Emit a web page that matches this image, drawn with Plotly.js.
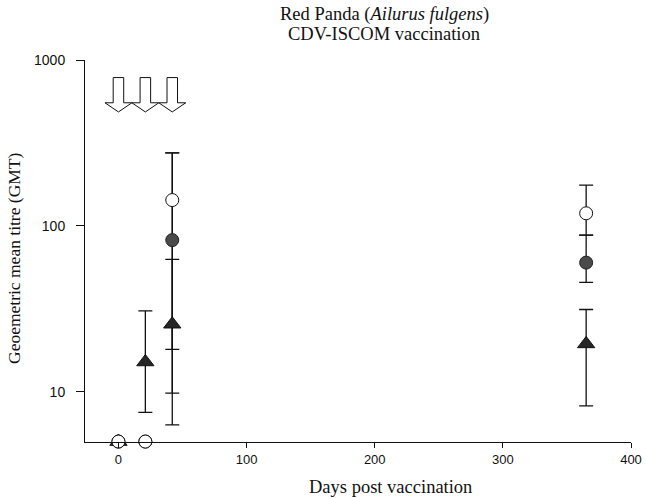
<!DOCTYPE html>
<html>
<head>
<meta charset="utf-8">
<script src="https://cdn.plot.ly/plotly-3.0.1.min.js"></script>
<style>
  html, body { margin: 0; padding: 0; background: #ffffff; }
  #chart { width: 646px; height: 499px; }
</style>
</head>
<body>
<div id="chart"></div>
<script>
// Sampling days (post first vaccination)
const days = [0, 21, 42, 365];
// Days on which a vaccination dose was given
const vaccinationDays = [0, 21, 42];

// Geometric mean titres per group with upper / lower limits
const openGMT    = [5, 5, 143, 119];
const openUpper  = [null, null, 275, 176];
const openLower  = [null, null, 9.8, 88];

const filledGMT   = [5, 5, 82, 60];
const filledUpper = [null, null, 275, 88];
const filledLower = [null, null, 18.0, 45.6];

const triGMT   = [5, 15.1, 25.5, 19.4];
const triUpper = [null, 30.7, 62.8, 31.3];
const triLower = [null, 7.5, 6.3, 8.2];

const xTicks = [0, 100, 200, 300, 400];
const yTicks = [10, 100, 1000];
const yTickText = ['10', '100', '1000'];

const titleLines = ['Red Panda (<i>Ailurus fulgens</i>)', 'CDV-ISCOM vaccination'];
const xTitle = 'Days post vaccination';
const yTitle = 'Geoemetric mean titre (GMT)';

// Missing limits become NaN so no bar is drawn for that point
function plusDelta(vals, up) {
  return vals.map((v, i) => (up[i] == null ? NaN : up[i] - v));
}
function minusDelta(vals, lo) {
  return vals.map((v, i) => (lo[i] == null ? NaN : v - lo[i]));
}

function errTrace(vals, up, lo) {
  return {
    x: days, y: vals, type: 'scatter', mode: 'markers',
    marker: { size: 1, opacity: 0 },
    error_y: {
      type: 'data', symmetric: false,
      array: plusDelta(vals, up), arrayminus: minusDelta(vals, lo),
      color: '#111111', thickness: 1.3, width: 7
    },
    cliponaxis: false, hoverinfo: 'skip', showlegend: false
  };
}

function markerTrace(vals, marker) {
  return {
    x: days, y: vals, type: 'scatter', mode: 'markers',
    marker: marker, cliponaxis: false, showlegend: false
  };
}

// Error bars first so every marker sits on top of the bar lines
const traces = [
  errTrace(triGMT, triUpper, triLower),
  errTrace(filledGMT, filledUpper, filledLower),
  errTrace(openGMT, openUpper, openLower),
  markerTrace(triGMT, { symbol: 'triangle-up', size: 15, color: '#262626', line: { color: '#111', width: 1 } }),
  markerTrace(filledGMT, { symbol: 'circle', size: 13, color: '#4a4a4a', line: { color: '#222', width: 1 } }),
  markerTrace(openGMT, { symbol: 'circle', size: 13, color: '#ffffff', line: { color: '#111', width: 1 } })
];

// Down arrows marking each vaccination
const shaftHalf = 4.1, headHalf = 10.5;
const yTop = 0.954, yBase = 0.888, yTip = 0.864;
const shapes = vaccinationDays.map(d => ({
  type: 'path', xref: 'x', yref: 'paper',
  path: `M ${d - shaftHalf} ${yTop} L ${d + shaftHalf} ${yTop} L ${d + shaftHalf} ${yBase} ` +
        `L ${d + headHalf} ${yBase} L ${d} ${yTip} L ${d - headHalf} ${yBase} ` +
        `L ${d - shaftHalf} ${yBase} Z`,
  fillcolor: '#ffffff', line: { color: '#111111', width: 1 }
}));

const W = 646, H = 499;
const serif = 'Liberation Serif, Times New Roman, serif';
const textAnn = (text, px, py, size, angle) => ({
  text: text, xref: 'paper', yref: 'paper',
  // convert page pixels to paper fractions of the plot area
  x: (px - 85) / (W - 85 - 15), y: (H - 57 - py) / (H - 60 - 57),
  xanchor: 'center', yanchor: 'middle', showarrow: false,
  textangle: angle || 0,
  font: { family: serif, size: size, color: '#111' }
});

const annotations = [
  textAnn(titleLines[0], 384, 15, 18.5),
  textAnn(titleLines[1], 384, 34, 18.5),
  textAnn(xTitle, 390, 487, 18.5),
  textAnn(yTitle, 14, 258, 17.5, -90)
];

const layout = {
  width: W, height: H,
  margin: { l: 85, r: 15, t: 60, b: 57 },
  paper_bgcolor: '#ffffff', plot_bgcolor: '#ffffff',
  xaxis: {
    range: [-26.1, 400], tickvals: xTicks,
    ticks: 'outside', ticklen: 5, tickcolor: '#111',
    showline: true, linecolor: '#111', linewidth: 1,
    showgrid: false, zeroline: false,
    tickfont: { family: 'Liberation Sans, Arial, sans-serif', size: 13, color: '#111' }
  },
  yaxis: {
    type: 'log', range: [Math.log10(4.97), 3],
    tickvals: yTicks, ticktext: yTickText,
    ticks: 'outside', ticklen: 8, tickcolor: '#111',
    ticklabelstandoff: 8,
    showline: true, linecolor: '#111', linewidth: 1,
    showgrid: false, zeroline: false,
    tickfont: { family: 'Liberation Sans, Arial, sans-serif', size: 14, color: '#111' }
  },
  shapes: shapes,
  annotations: annotations,
  showlegend: false
};

Plotly.newPlot('chart', traces, layout, { displayModeBar: false, staticPlot: true });
</script>
</body>
</html>
